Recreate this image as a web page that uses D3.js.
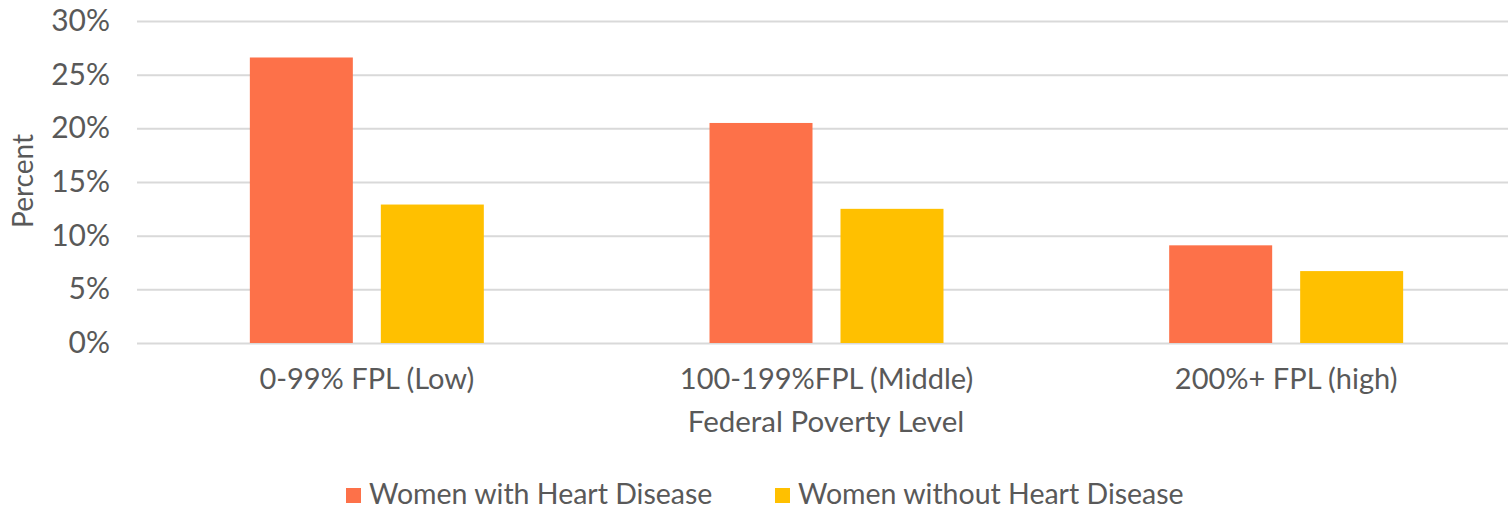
<!DOCTYPE html>
<html>
<head>
<meta charset="utf-8">
<script src="https://cdn.jsdelivr.net/npm/d3@7"></script>
<style>
  html, body { margin: 0; padding: 0; background: #ffffff; overflow: hidden; }
  svg { display: block; }
  text { font-family: "Lato", "Noto Sans", sans-serif; fill: #595959; }
</style>
</head>
<body>
<svg id="chart" width="1508" height="510"></svg>
<script>
const categories = ["0-99% FPL (Low)", "100-199%FPL (Middle)", "200%+ FPL (high)"];
const seriesNames = ["Women with Heart Disease", "Women without Heart Disease"];
const withHeartDisease = [26.6, 20.5, 9.1];
const withoutHeartDisease = [12.9, 12.5, 6.7];
const yTicks = [0, 5, 10, 15, 20, 25, 30];
const colors = ["#FD7149", "#FFC000"];

const svg = d3.select("#chart");
const W = 1508;
const plotLeft = 137, plotRight = 1516;
const plotBottom = 343, plotTop = 21;

const x0 = d3.scaleBand().domain(categories).range([plotLeft, plotRight]).paddingInner(0.491).paddingOuter(0.2455);
const x1 = d3.scaleBand().domain(seriesNames).range([0, x0.bandwidth()]).paddingInner(0.2137);
const y = d3.scaleLinear().domain([0, 30]).range([plotBottom, plotTop]);

// gridlines + y tick labels
const yAxis = d3.axisLeft(y).tickValues(yTicks).tickFormat(d => d + "%").tickSize(-(W - plotLeft)).tickPadding(27);
const gy = svg.append("g").attr("transform", `translate(${plotLeft},0)`).call(yAxis);
gy.select(".domain").remove();
gy.selectAll(".tick line").attr("stroke", "#d9d9d9").attr("stroke-width", 2);
gy.selectAll(".tick text").attr("font-size", 30).attr("fill", "#595959").style("font-family", "Lato, sans-serif");

// bars
const data = categories.map((c, i) => ({ cat: c, vals: [withHeartDisease[i], withoutHeartDisease[i]] }));
const groups = svg.append("g").selectAll("g").data(data).join("g")
  .attr("transform", d => `translate(${x0(d.cat)},0)`);
groups.selectAll("rect").data(d => d.vals.map((v, j) => ({ v, s: seriesNames[j], j })))
  .join("rect")
  .attr("x", d => x1(d.s))
  .attr("y", d => y(d.v))
  .attr("width", x1.bandwidth())
  .attr("height", d => y(0) - y(d.v))
  .attr("fill", d => colors[d.j]);

// x axis labels
const xAxis = d3.axisBottom(x0).tickSize(0).tickPadding(0);
const gx = svg.append("g").attr("transform", `translate(0,${plotBottom})`).call(xAxis);
gx.select(".domain").remove();
gx.selectAll(".tick text").attr("font-size", 29).attr("dy", null).attr("y", 46).attr("fill", "#595959").style("font-family", "Lato, sans-serif");

// axis titles
svg.append("text").attr("x", 826).attr("y", 432)
  .attr("text-anchor", "middle").attr("font-size", 29.5).text("Federal Poverty Level");
svg.append("text").attr("transform", `translate(33,181) rotate(-90)`)
  .attr("text-anchor", "middle").attr("font-size", 28).text("Percent");

// legend
const legendX = [346, 775];
const lg = svg.append("g").selectAll("g").data(seriesNames).join("g")
  .attr("transform", (d, i) => `translate(${legendX[i]},488)`);
lg.append("rect").attr("width", 15).attr("height", 15).attr("fill", (d, i) => colors[i]);
lg.append("text").attr("x", 23).attr("y", 16).attr("font-size", 28.5).text(d => d);
</script>
</body>
</html>
